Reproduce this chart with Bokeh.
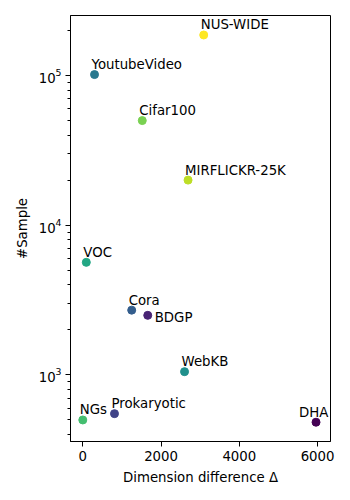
from bokeh.plotting import figure
from bokeh.models import Range1d, FixedTicker, ColumnDataSource
from bokeh.transform import linear_cmap
from bokeh.palettes import Viridis256
from bokeh.core.properties import value
from bokeh.embed import file_html
from bokeh.resources import INLINE

# ---- data ----
names = ["DHA", "BDGP", "Prokaryotic", "Cora", "YoutubeVideo", "WebKB",
         "VOC", "NGs", "Cifar100", "MIRFLICKR-25K", "NUS-WIDE"]
dim_diff = [5960, 1660, 810, 1250, 300, 2600, 90, 0, 1520, 2690, 3090]
samples = [483, 2500, 551, 2708, 101499, 1051, 5649, 500, 50000, 20015, 186577]
rank = list(range(len(names)))
x_ticks = [0, 2000, 4000, 6000]

# ---- label placement (style, in screen pixels) ----
default_offset = (-3, -10)
special_offset = {"BDGP": (7, 2), "DHA": (-17, -10)}
x_off = [special_offset.get(n, default_offset)[0] for n in names]
y_off = [special_offset.get(n, default_offset)[1] for n in names]

src = ColumnDataSource(dict(name=names, x=dim_diff, y=samples, rank=rank,
                            xo=x_off, yo=y_off))

FONT = "DejaVu Sans"
FS = "13.3px"

p = figure(frame_width=260, frame_height=426,
           x_range=Range1d(-314, 6330), y_range=Range1d(359, 251800),
           y_axis_type="log", output_backend="svg", toolbar_location=None,
           min_border_left=70, min_border_right=12, min_border_top=15,
           min_border_bottom=51)

p.grid.visible = False
p.outline_line_color = "black"
p.outline_line_width = 1
p.background_fill_color = "white"
p.border_fill_color = "white"

p.scatter("x", "y", source=src, size=8,
          fill_color=linear_cmap("rank", Viridis256, 0, len(names) - 1),
          line_color=linear_cmap("rank", Viridis256, 0, len(names) - 1))

p.text("x", "y", text="name", source=src, x_offset="xo", y_offset="yo",
       text_font=value(FONT), text_font_size=FS, text_color="black",
       text_baseline="alphabetic", text_align="left")

p.xaxis.ticker = FixedTicker(ticks=x_ticks)
p.xaxis.minor_tick_line_color = None
p.xaxis.axis_label = "Dimension difference Δ"
p.yaxis.axis_label = "#Sample"

for ax in (p.xaxis, p.yaxis):
    ax.axis_line_color = "black"
    ax.major_tick_line_color = "black"
    ax.major_tick_out = 5
    ax.major_tick_in = 0
    ax.minor_tick_out = 3
    ax.minor_tick_in = 0
    ax.major_label_text_font = FONT
    ax.major_label_text_font_size = FS
    ax.major_label_text_color = "black"
    ax.major_label_standoff = 4
    ax.axis_label_text_font = FONT
    ax.axis_label_text_font_size = FS
    ax.axis_label_text_font_style = "normal"
    ax.axis_label_text_color = "black"
    ax.axis_label_standoff = 6

p.yaxis.minor_tick_line_color = "black"

open("out.html", "w").write(file_html(p, INLINE))
